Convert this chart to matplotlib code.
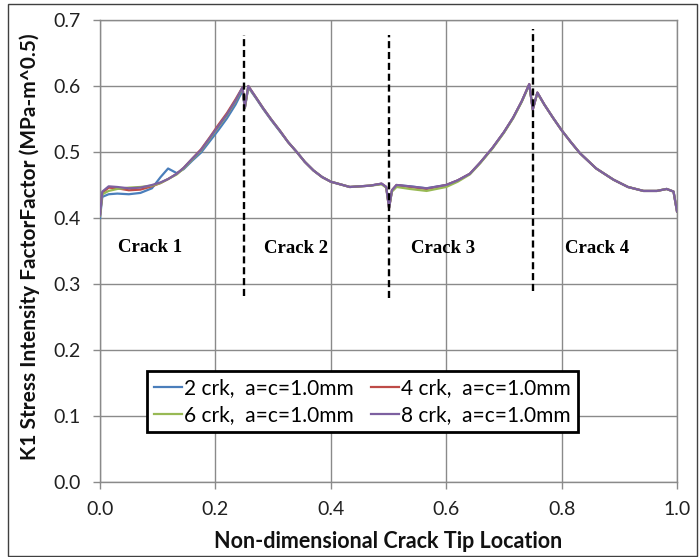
import matplotlib
matplotlib.use("Agg")
import matplotlib.pyplot as plt
from matplotlib.patches import Rectangle

# ---------------- data ----------------
x_loc = [0.000, 0.004, 0.015, 0.030, 0.050, 0.070, 0.090, 0.105, 0.118, 0.133,
         0.145, 0.160, 0.175, 0.190, 0.205, 0.220, 0.235, 0.247, 0.251, 0.257,
         0.270, 0.283, 0.297, 0.312, 0.326, 0.341, 0.355, 0.370, 0.385, 0.400,
         0.433, 0.468, 0.488, 0.496, 0.501, 0.506, 0.514, 0.537, 0.566, 0.600,
         0.620, 0.641, 0.659, 0.680, 0.700, 0.716, 0.731, 0.744, 0.750, 0.758,
         0.770, 0.785, 0.800, 0.816, 0.832, 0.860, 0.890, 0.915, 0.942, 0.965,
         0.982, 0.994, 1.000]

k_2crk = [0.400, 0.432, 0.436, 0.437, 0.436, 0.438, 0.445, 0.462, 0.475, 0.468,
          0.474, 0.487, 0.499, 0.516, 0.533, 0.551, 0.572, 0.593, 0.566, 0.598,
          0.582, 0.565, 0.548, 0.531, 0.515, 0.500, 0.485, 0.472, 0.462, 0.455,
          0.447, 0.449, 0.452, 0.447, 0.416, 0.442, 0.450, 0.448, 0.445, 0.450,
          0.457, 0.467, 0.484, 0.506, 0.530, 0.552, 0.577, 0.602, 0.565, 0.590,
          0.572, 0.552, 0.533, 0.515, 0.498, 0.475, 0.458, 0.447, 0.441, 0.441,
          0.444, 0.440, 0.410]

k_4crk = [0.404, 0.438, 0.446, 0.445, 0.442, 0.443, 0.448, 0.453, 0.459, 0.467,
          0.476, 0.490, 0.504, 0.522, 0.541, 0.559, 0.580, 0.598, 0.567, 0.600,
          0.583, 0.566, 0.549, 0.532, 0.515, 0.500, 0.485, 0.472, 0.462, 0.455,
          0.447, 0.449, 0.452, 0.447, 0.415, 0.442, 0.450, 0.447, 0.444, 0.450,
          0.457, 0.467, 0.484, 0.506, 0.530, 0.552, 0.577, 0.603, 0.564, 0.590,
          0.572, 0.552, 0.533, 0.515, 0.498, 0.475, 0.458, 0.447, 0.441, 0.441,
          0.444, 0.440, 0.410]

k_6crk = [0.404, 0.436, 0.441, 0.444, 0.446, 0.447, 0.449, 0.453, 0.459, 0.466,
          0.475, 0.489, 0.502, 0.520, 0.538, 0.556, 0.577, 0.597, 0.567, 0.599,
          0.583, 0.566, 0.549, 0.532, 0.515, 0.500, 0.485, 0.472, 0.462, 0.455,
          0.447, 0.449, 0.451, 0.446, 0.416, 0.440, 0.447, 0.444, 0.441, 0.447,
          0.455, 0.466, 0.483, 0.505, 0.529, 0.551, 0.576, 0.602, 0.565, 0.589,
          0.572, 0.552, 0.533, 0.515, 0.498, 0.475, 0.458, 0.447, 0.441, 0.441,
          0.444, 0.440, 0.410]

k_8crk = [0.405, 0.440, 0.448, 0.447, 0.445, 0.446, 0.450, 0.454, 0.459, 0.467,
          0.476, 0.490, 0.503, 0.521, 0.539, 0.557, 0.578, 0.598, 0.568, 0.600,
          0.583, 0.566, 0.549, 0.532, 0.515, 0.500, 0.485, 0.472, 0.462, 0.455,
          0.447, 0.449, 0.452, 0.447, 0.415, 0.442, 0.450, 0.448, 0.445, 0.450,
          0.457, 0.467, 0.484, 0.506, 0.530, 0.552, 0.577, 0.603, 0.564, 0.590,
          0.572, 0.552, 0.533, 0.515, 0.498, 0.475, 0.458, 0.447, 0.441, 0.441,
          0.444, 0.440, 0.410]

series_labels = ["2 crk,  a=c=1.0mm", "4 crk,  a=c=1.0mm",
                 "6 crk,  a=c=1.0mm", "8 crk,  a=c=1.0mm"]
series_colors = ["#4A7EBB", "#BE4B48", "#98B954", "#7D60A0"]

crack_bounds = [0.25, 0.50, 0.75]
dash_bottom = [0.282, 0.279, 0.289]
dash_top = [0.678, 0.678, 0.686]

crack_names = ["Crack 1", "Crack 2", "Crack 3", "Crack 4"]
crack_x = [0.087, 0.339, 0.594, 0.861]
crack_y = [0.355, 0.354, 0.354, 0.354]

x_ticks = [0.0, 0.2, 0.4, 0.6, 0.8, 1.0]
y_ticks = [0.0, 0.1, 0.2, 0.3, 0.4, 0.5, 0.6, 0.7]

# ---------------- figure ----------------
W, H = 699, 557
fig = plt.figure(figsize=(W / 100, H / 100), dpi=100)
ax = fig.add_axes([100 / W, 1 - 482 / H, 577 / W, 462 / H])

grid_c = "#8A8A8A"
font_main = ["Lato", "DejaVu Sans"]

lines = []
for yv, lab, col in zip([k_2crk, k_4crk, k_6crk, k_8crk], series_labels, series_colors):
    ln, = ax.plot(x_loc, yv, color=col, lw=1.6, label=lab, zorder=3)
    lines.append(ln)

ax.vlines(crack_bounds, dash_bottom, dash_top, colors="black", linestyles=(0, (3.0, 1.6)),
          lw=1.7, zorder=4)

for name, cx, cy in zip(crack_names, crack_x, crack_y):
    ax.text(cx, cy, name, ha="center", va="center", fontsize=13.5, fontweight="bold",
            family=["Liberation Serif", "DejaVu Serif"], zorder=5)

ax.set_xlim(0, 1.0)
ax.set_ylim(0, 0.7)
ax.set_xticks(x_ticks)
ax.set_yticks(y_ticks)
ax.set_xticklabels([f"{v:.1f}" for v in x_ticks], family=font_main, fontsize=14)
ax.set_yticklabels([f"{v:.1f}" for v in y_ticks], family=font_main, fontsize=14)
ax.tick_params(axis="both", direction="out", length=5, width=1, color=grid_c,
               pad=9, labelcolor="#202020")
ax.grid(True, color=grid_c, lw=1)
ax.set_axisbelow(True)
for sp in ax.spines.values():
    sp.set_color(grid_c)
    sp.set_linewidth(1)

ax.set_xlabel("Non-dimensional Crack Tip Location", family=font_main, fontsize=15.5,
              fontweight="bold", va="center", color="#111111")
ax.xaxis.set_label_coords(0.5, -0.129)
ax.set_ylabel("K1 Stress Intensity FactorFactor (MPa-m^0.5)", family=font_main,
              fontsize=15, fontweight="bold", va="center", color="#111111")
ax.yaxis.set_label_coords(-0.121, 0.509)

leg = ax.legend([lines[0], lines[2], lines[1], lines[3]],
                [series_labels[0], series_labels[2], series_labels[1], series_labels[3]],
                ncol=2, loc="lower left", bbox_to_anchor=(0.081, 0.108),
                borderaxespad=0, frameon=True, fancybox=False, framealpha=1,
                edgecolor="black", prop={"family": font_main, "size": 15},
                handlelength=1.35, handletextpad=0.1, columnspacing=0.8,
                labelspacing=0.3, borderpad=0.35)
leg.get_frame().set_linewidth(2)
leg.set_zorder(6)

fig.patches.append(Rectangle((8 / W, 1 - 556 / H), 689 / W, 552 / H,
                             transform=fig.transFigure, fill=False,
                             edgecolor="#404040", lw=1))

fig.savefig("out.png", dpi=100)
